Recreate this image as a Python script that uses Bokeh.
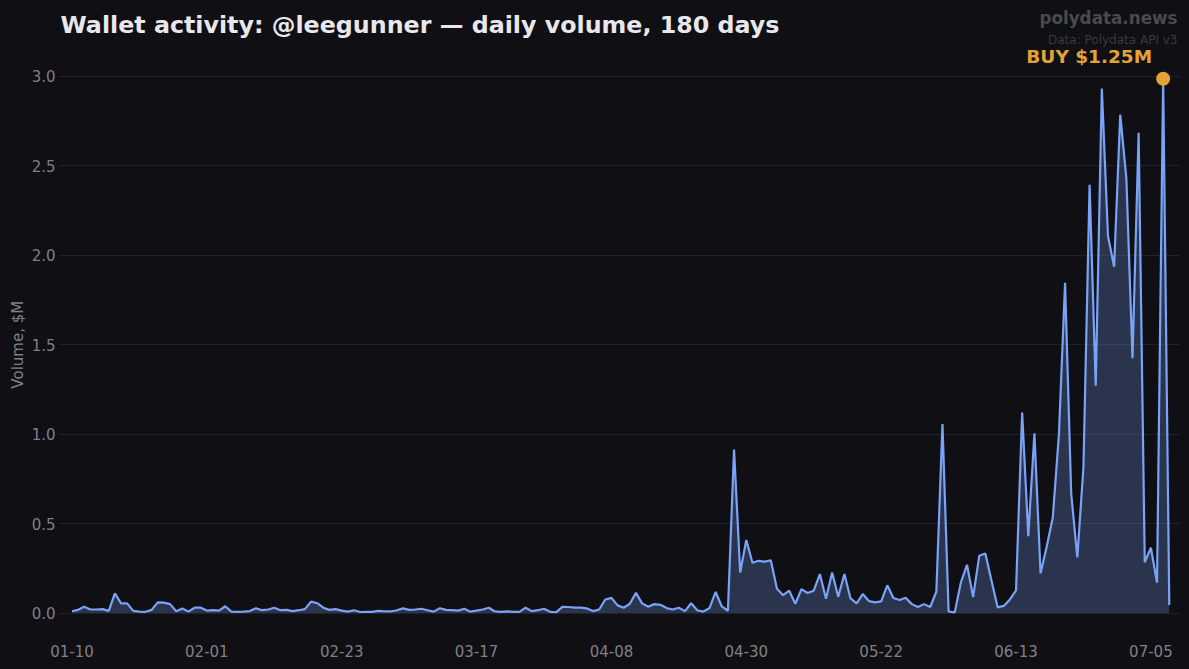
from bokeh.plotting import figure
from bokeh.embed import file_html
from bokeh.resources import INLINE
from bokeh.models import ColumnDataSource, FixedTicker, Label, Range1d, GlobalInlineStyleSheet, NumeralTickFormatter

TITLE = "Wallet activity: @leegunner \u2014 daily volume, 180 days"
BRAND = "polydata.news"
CREDIT = "Data: Polydata API v3"
CALLOUT = "BUY $1.25M"
Y_LABEL = "Volume, $M"
tick_days = [0, 22, 44, 66, 88, 110, 132, 154, 176]
tick_labels = ["01-10", "02-01", "02-23", "03-17", "04-08", "04-30", "05-22", "06-13", "07-05"]
volume = [
    .010, .018, .035, .020, .020, .022, .012, .110, .054, .054,
    .012, .008, .007, .018, .060, .058, .050, .010, .026, .008,
    .030, .030, .014, .016, .014, .038, .008, .007, .008, .011,
    .027, .016, .020, .030, .016, .018, .011, .016, .022, .064,
    .055, .030, .018, .022, .014, .008, .016, .006, .007, .007,
    .012, .010, .009, .016, .026, .018, .020, .024, .016, .008,
    .027, .018, .016, .014, .024, .008, .014, .020, .030, .009,
    .007, .010, .007, .007, .030, .011, .016, .024, .007, .005,
    .035, .034, .030, .030, .026, .011, .020, .076, .085, .043,
    .030, .052, .113, .054, .035, .050, .046, .028, .020, .030,
    .011, .055, .016, .008, .028, .118, .037, .013, .914, .227,
    .408, .281, .292, .287, .294, .136, .100, .125, .052, .134,
    .112, .125, .218, .080, .227, .091, .218, .082, .054, .106,
    .067, .060, .065, .155, .084, .073, .086, .050, .034, .050,
    .034, .119, 1.056, .009, .004, .170, .270, .089, .320, .333,
    .180, .032, .040, .076, .127, 1.120, .430, 1.004, .222, .370,
    .534, 1.000, 1.845, .668, .311, .817, 2.393, 1.270, 2.930, 2.106,
    1.935, 2.784, 2.428, 1.423, 2.683, .284, .365, .170, 2.985, .045,
]
peak_day = 178
days = list(range(len(volume)))
zeros = [0] * len(volume)

BG = "#0f0f14"
LINE = "#7aa2f7"
GOLD = "#e3a336"
MUTED = "#808086"

source = ColumnDataSource(dict(day=days, volume=volume, zero=zeros))

p = figure(width=1189, height=669, output_backend="svg", toolbar_location=None,
           x_range=Range1d(-2.2, 180.83), y_range=Range1d(-0.1085, 3.3995),
           background_fill_color=BG, border_fill_color=BG,
           min_border_left=58, min_border_right=9, min_border_bottom=37, min_border_top=4,
           outline_line_color=None)

p.xgrid.visible = False
p.ygrid.grid_line_color = "#ffffff"
p.ygrid.grid_line_alpha = 0.08
p.ygrid.grid_line_width = 1
p.ygrid.ticker = FixedTicker(ticks=[0, .5, 1, 1.5, 2, 2.5, 3])

p.yaxis.ticker = FixedTicker(ticks=[0, .5, 1, 1.5, 2, 2.5, 3])
p.yaxis.formatter = NumeralTickFormatter(format="0.0")
# the padding lifts the label's centre to the middle of the reference's plot area
p.yaxis.axis_label = Y_LABEL + "\u00a0" * 11
p.yaxis.axis_label_text_font = "DejaVu Sans"
p.yaxis.axis_label_text_font_size = "15px"
p.yaxis.axis_label_text_font_style = "normal"
p.yaxis.axis_label_text_color = MUTED
p.yaxis.axis_label_standoff = 2

p.xaxis.ticker = FixedTicker(ticks=tick_days)
p.xaxis.major_label_overrides = dict(zip(tick_days, tick_labels))

for ax in (p.xaxis, p.yaxis):
    ax.axis_line_color = None
    ax.major_tick_line_color = None
    ax.minor_tick_line_color = None
    ax.major_tick_out = 0
    ax.major_tick_in = 0
    ax.minor_tick_out = 0
    ax.minor_tick_in = 0
    ax.major_label_text_font = "DejaVu Sans"
    ax.major_label_text_font_size = "15px"
    ax.major_label_text_color = MUTED
p.xaxis.major_label_standoff = 12
p.yaxis.major_label_standoff = 3

p.varea(x="day", y1="zero", y2="volume", source=source, fill_color=LINE, fill_alpha=0.25)
p.line(x="day", y="volume", source=source, line_color=LINE, line_width=2.2)
p.scatter(x=[peak_day], y=[volume[peak_day]], size=14, marker="circle",
          fill_color=GOLD, line_color=GOLD, line_width=0)

p.add_layout(Label(x=2, x_units="screen", y=608, y_units="screen", text=TITLE,
                   text_align="left", text_baseline="middle", text_color="#e8e8ec",
                   text_font="DejaVu Sans", text_font_size="23.75px", text_font_style="bold"))
p.add_layout(Label(x=peak_day, y=volume[peak_day], text=CALLOUT, x_offset=-11, y_offset=22,
                   text_align="right", text_baseline="middle", text_color=GOLD,
                   text_font="DejaVu Sans", text_font_size="18.5px", text_font_style="bold"))
p.add_layout(Label(x=1119, x_units="screen", y=615, y_units="screen", text=BRAND,
                   text_align="right", text_baseline="middle", text_color="#4a4a4e",
                   text_font="DejaVu Sans", text_font_size="16.8px", text_font_style="bold"))
p.add_layout(Label(x=1119, x_units="screen", y=593, y_units="screen", text=CREDIT,
                   text_align="right", text_baseline="middle", text_color="#3a3a3e",
                   text_font="DejaVu Sans", text_font_size="12px"))

p.stylesheets = [GlobalInlineStyleSheet(css="html,body{background:#0f0f14;margin:0;overflow:hidden}")]

open("out.html", "w").write(file_html(p, INLINE))
